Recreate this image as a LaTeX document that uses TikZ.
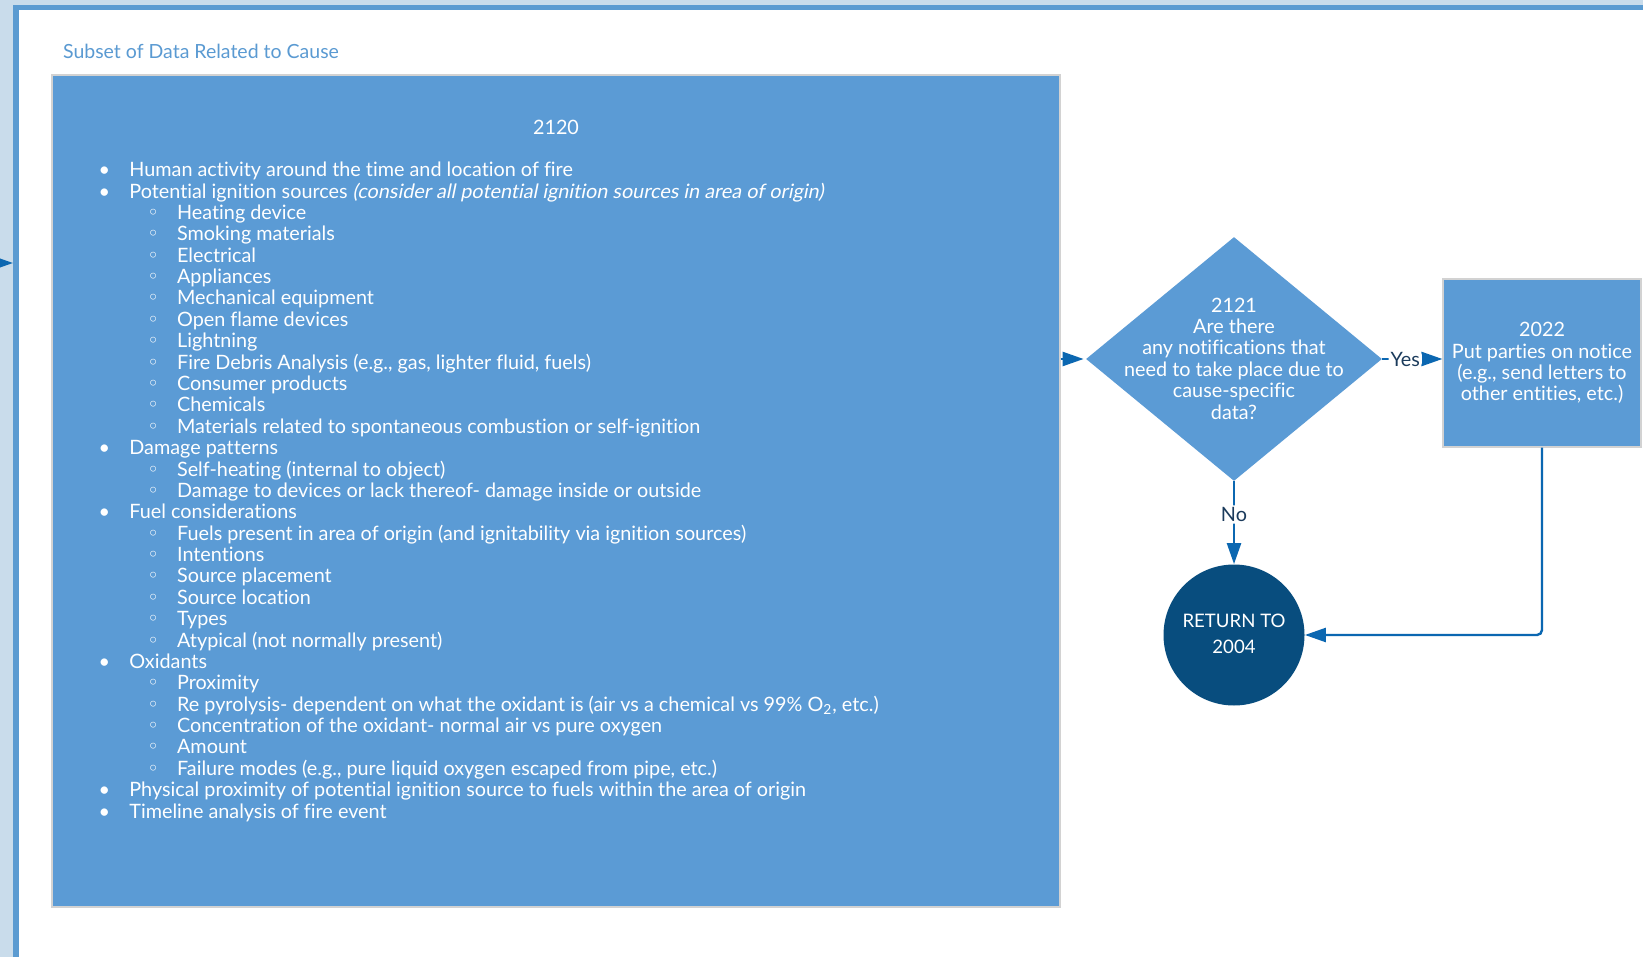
\documentclass[tikz,border=0pt]{standalone}
\usepackage{fontspec}
\setmainfont{Lato}[Ligatures=NoCommon]
\newfontfamily\slantfont{Lato}[Ligatures=NoCommon, FakeSlant=0.2]
\newfontfamily\ringfont{DejaVu Sans}
\usetikzlibrary{arrows.meta,shapes.geometric}

\definecolor{pageback}{HTML}{C9DCEB}
\definecolor{framebl}{HTML}{5B9BD1}
\definecolor{boxfill}{HTML}{5B9BD5}
\definecolor{boxedge}{HTML}{D2D2D2}
\definecolor{termfill}{HTML}{084D7E}
\definecolor{flow}{HTML}{0B67B1}
\definecolor{labelc}{HTML}{1B3B5C}
\definecolor{titlec}{HTML}{5A9AD2}

\newcommand\bodyfont{\fontsize{9.9}{10.7}\selectfont}
% list lines: top level and nested level, placed on a fixed baseline grid
\newcommand\listA[3]{\node[listline] (#1) at (129, {176.7+21.38*#2})
  {\llap{\makebox[6pt]{\textbullet}\hspace{9.5pt}}#3};}
\newcommand\listB[3]{\node[listline] (#1) at (176.7, {176.7+21.38*#2})
  {\llap{\makebox[6pt]{\ringfont ◦}\hspace{9pt}}#3};}

\tikzset{
  listline/.style={anchor=base west, inner sep=0pt, text=white, font=\bodyfont},
  bodytext/.style={text=white, font=\bodyfont, align=center, inner sep=0pt},
  panel/.style={rectangle, fill=boxfill, draw=boxedge, line width=0.6pt, inner sep=0pt},
  flowarrow/.style={draw=flow, line width=1.2pt, rounded corners=2.5pt,
    -{Triangle[length=10.5pt,width=7pt]}},
  flowlabel/.style={text=labelc, fill=white, inner sep=1pt, font=\bodyfont},
}

\begin{document}
\begin{tikzpicture}[x=0.5pt, y=-0.5pt]
\useasboundingbox (0,0) rectangle (1643,957);

% page background and swimlane frame
\fill[pageback] (0,0) rectangle (1643,957);
\fill[framebl] (13,5) rectangle (1700,1000);
\fill[white] (19,10) rectangle (1700,1000);

\node[anchor=base west, inner sep=0pt, text=titlec, font=\fontsize{9.75}{12}\selectfont]
  (title) at (62.7,59) {Subset of Data Related to Cause};

% data panel
\node[panel, minimum width=504pt, minimum height=416pt] (main) at (556,491) {};
\node[anchor=base, inner sep=0pt, text=white, font=\bodyfont] (mainid) at (556,134.5) {2120};

\listA{i0}{0}{Human activity around the time and location of fire}
\listA{i1}{1}{Potential ignition sources {\slantfont (consider all potential ignition sources in area of origin)}}
\listB{i2}{2}{Heating device}
\listB{i3}{3}{Smoking materials}
\listB{i4}{4}{Electrical}
\listB{i5}{5}{Appliances}
\listB{i6}{6}{Mechanical equipment}
\listB{i7}{7}{Open flame devices}
\listB{i8}{8}{Lightning}
\listB{i9}{9}{Fire Debris Analysis (e.g., gas, lighter fluid, fuels)}
\listB{i10}{10}{Consumer products}
\listB{i11}{11}{Chemicals}
\listB{i12}{12}{Materials related to spontaneous combustion or self-ignition}
\listA{i13}{13}{Damage patterns}
\listB{i14}{14}{Self-heating (internal to object)}
\listB{i15}{15}{Damage to devices or lack thereof- damage inside or outside}
\listA{i16}{16}{Fuel considerations}
\listB{i17}{17}{Fuels present in area of origin (and ignitability via ignition sources)}
\listB{i18}{18}{Intentions}
\listB{i19}{19}{Source placement}
\listB{i20}{20}{Source location}
\listB{i21}{21}{Types}
\listB{i22}{22}{Atypical (not normally present)}
\listA{i23}{23}{Oxidants}
\listB{i24}{24}{Proximity}
\listB{i25}{25}{Re pyrolysis- dependent on what the oxidant is (air vs a chemical vs 99\% O\textsubscript{2}, etc.)}
\listB{i26}{26}{Concentration of the oxidant- normal air vs pure oxygen}
\listB{i27}{27}{Amount}
\listB{i28}{28}{Failure modes (e.g., pure liquid oxygen escaped from pipe, etc.)}
\listA{i29}{29}{Physical proximity of potential ignition source to fuels within the area of origin}
\listA{i30}{30}{Timeline analysis of fire event}

% decision
\node[diamond, fill=boxfill, inner sep=0pt, minimum width=148pt, minimum height=122pt]
  (d2121) at (1234,359) {};
\node[bodytext] (d2121txt) at (1234,358.5)
  {2121\\Are there\\any notifications that\\need to take place due to\\cause-specific\\data?};

% notice step
\node[panel, minimum width=99pt, minimum height=84pt] (n2022) at (1542,363) {};
\node[bodytext] (n2022txt) at (1542,363)
  {2022\\Put parties on notice\\(e.g., send letters to\\other entities, etc.)};

% terminator
\node[circle, fill=termfill, inner sep=0pt, minimum size=70.5pt] (ret) at (1234,635) {};
\node[bodytext, font=\fontsize{9.3}{13}\selectfont] (rettxt) at (1234,633.5) {RETURN TO\\2004};

% connectors
\coordinate (entry) at (-40,263);
\coordinate (entrytip) at (13,263);
\draw[flowarrow] (entry) -- (entrytip);
\draw[flowarrow] (main.east |- d2121.west) -- ([xshift=-1pt]d2121.west);
\draw[flowarrow] (d2121.east) -- node[flowlabel, pos=0.38] {Yes} (d2121.east -| n2022.west);
\draw[flowarrow] (d2121.south) -- node[flowlabel, pos=0.4] {No} (ret.north);
\draw[flowarrow] (n2022.south) |- (ret.east);
\end{tikzpicture}
\end{document}
